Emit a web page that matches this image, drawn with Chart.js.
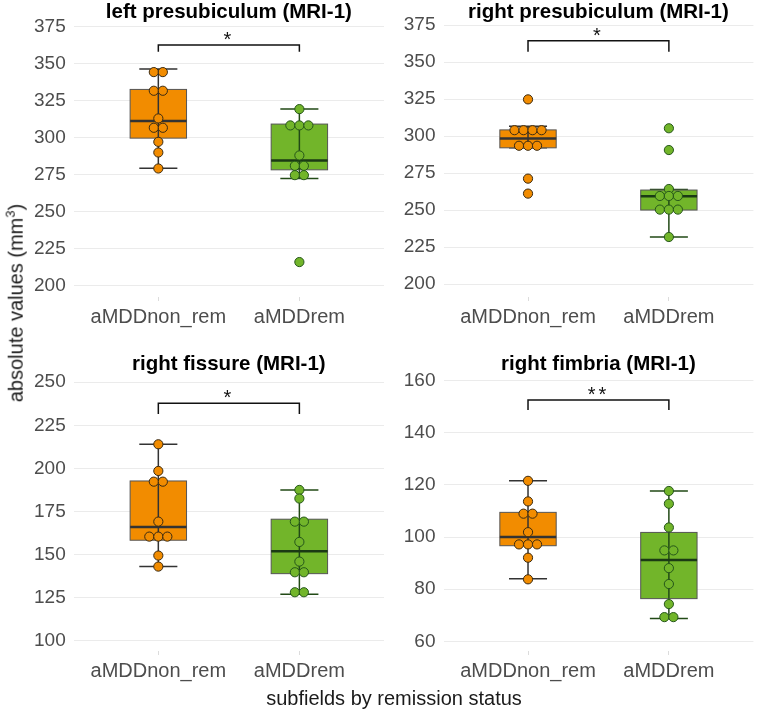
<!DOCTYPE html>
<html lang="en">
<head>
    <meta charset="UTF-8">
    <title>subfields by remission status (MRI-1)</title>
    <script src="https://cdn.jsdelivr.net/npm/chart.js"></script>
    <style>
        body {
            margin: 0;
            background: #fff;
            font-family: "Liberation Sans", Arial, sans-serif;
        }

        #wrap {
            position: relative;
            width: 759px;
            height: 711px;
        }

        canvas {
            position: absolute;
        }

        #ytitle {
            position: absolute;
            left: 15px;
            top: 303px;
            transform: translate(-50%, -50%) rotate(-90deg);
            white-space: nowrap;
            font-size: 20px;
            color: #1a1a1a;
        }

        #xtitle {
            position: absolute;
            left: 394px;
            top: 698px;
            transform: translate(-50%, -50%);
            white-space: nowrap;
            font-size: 20px;
            color: #1a1a1a;
        }
    </style>
</head>
<body>
    <div id="wrap">
        <canvas id="p1" width="390" height="337" style="left:0;top:0"></canvas>
        <canvas id="p2" width="369" height="337" style="left:390px;top:0"></canvas>
        <canvas id="p3" width="390" height="339" style="left:0;top:352px"></canvas>
        <canvas id="p4" width="369" height="339" style="left:390px;top:352px"></canvas>
        <div id="ytitle">absolute values (mm<sup style="font-size:13px">3</sup>)</div>
        <div id="xtitle">subfields by remission status</div>
    </div>

    <script>
        // groups on the x axis
        const groups = ['aMDDnon_rem', 'aMDDrem'];

        // left presubiculum
        const leftPresubTicks = [200, 225, 250, 275, 300, 325, 350, 375];
        const leftPresubNonRem = [344.3, 344.3, 331.7, 331.7, 313, 306.7, 306.7, 297.2, 290, 279.2];
        const leftPresubRem = [319.3, 308.3, 308.3, 308.3, 288, 281, 281, 274.7, 274.7, 216];
        // box stats: lower whisker, q1, median, q3, upper whisker
        const leftPresubBoxNonRem = [279.4, 299.7, 311.2, 332.6, 346.4];
        const leftPresubBoxRem = [272.4, 278.3, 284.6, 309.2, 319.3];

        // right presubiculum
        const rightPresubTicks = [200, 225, 250, 275, 300, 325, 350, 375];
        const rightPresubNonRem = [324.8, 304, 304, 304, 304, 293.5, 293.5, 293.5, 271.3, 261.2];
        const rightPresubRem = [305.3, 290.6, 264.3, 259.6, 259.6, 259.6, 250.4, 250.4, 250.4, 231.9];
        const rightPresubBoxNonRem = [292.1, 292.1, 298.4, 304.2, 306.7];
        const rightPresubBoxRem = [231.9, 250.1, 259.4, 263.6, 264];

        // right fissure
        const fissureTicks = [100, 125, 150, 175, 200, 225, 250];
        const fissureNonRem = [214, 198.5, 192.3, 192.3, 169.1, 160.4, 160.4, 160.4, 149.4, 143];
        const fissureRem = [187.5, 182.5, 169.1, 169.1, 157.3, 145.9, 139.7, 139.7, 128.1, 128.1];
        const fissureBoxNonRem = [143, 158.3, 166, 192.7, 214];
        const fissureBoxRem = [126.9, 138.9, 151.9, 170.5, 187.5];

        // right fimbria
        const fimbriaTicks = [60, 80, 100, 120, 140, 160];
        const fimbriaNonRem = [121.6, 113.7, 109, 109, 101.9, 97.2, 97.2, 97.2, 92.1, 83.8];
        const fimbriaRem = [117.7, 112.8, 103.7, 94.9, 94.9, 88.1, 82, 74.3, 69.3, 69.3];
        const fimbriaBoxNonRem = [84, 96.7, 100, 109.5, 121.6];
        const fimbriaBoxRem = [68.8, 76.4, 91.2, 101.8, 117.7];

        // significance brackets: [line y, tip y, label]
        const leftPresubSig = [362.6, 358.1, '*'];
        const rightPresubSig = [364.4, 357, '*'];
        const fissureSig = [237.8, 231.6, '*'];
        const fimbriaSig = [152.6, 148.8, '**'];

        const fills = ['#f28c00', '#72b52a'];
        const dotEdges = ['#3a2a12', '#25561a'];
        const whiskerCols = ['#333333', '#224a16'];
        const medianCols = ['#333333', '#1b3a14'];
        const fontFamily = '"Liberation Sans", Arial, sans-serif';
        const dotStep = 0.064; // one dot diameter in x units

        // spread equal values side by side, like a centred dotplot
        function stackDots(values, xCenter) {
            const counts = {};
            values.forEach(v => counts[v] = (counts[v] || 0) + 1);
            const seen = {};
            return values.map(v => {
                const i = seen[v] || 0;
                seen[v] = i + 1;
                return { x: xCenter + (i - (counts[v] - 1) / 2) * dotStep, y: v };
            });
        }

        function makePanel(id, title, ticks, yMin, yMax, yWidth, padRight, points, boxes, sig) {
            const boxPlugin = {
                id: 'boxes' + id,
                beforeDatasetsDraw(chart) {
                    const { ctx, scales: { x, y } } = chart;
                    boxes.forEach((b, g) => {
                        const cx = x.getPixelForValue(g + 1);
                        const half = x.getPixelForValue(g + 1.2) - cx;
                        const cap = x.getPixelForValue(g + 1.135) - cx;
                        const [lo, q1, med, q3, hi] = b.map(v => y.getPixelForValue(v));
                        ctx.save();
                        // whiskers and caps
                        ctx.strokeStyle = whiskerCols[g];
                        ctx.lineWidth = 1.5;
                        ctx.beginPath();
                        ctx.moveTo(cx, hi);
                        ctx.lineTo(cx, lo);
                        ctx.moveTo(cx - cap, hi);
                        ctx.lineTo(cx + cap, hi);
                        ctx.moveTo(cx - cap, lo);
                        ctx.lineTo(cx + cap, lo);
                        ctx.stroke();
                        // box
                        ctx.fillStyle = fills[g];
                        ctx.fillRect(cx - half, q3, 2 * half, q1 - q3);
                        ctx.strokeStyle = '#555';
                        ctx.lineWidth = 1;
                        ctx.strokeRect(cx - half, q3, 2 * half, q1 - q3);
                        // whisker line showing through the box
                        ctx.strokeStyle = whiskerCols[g];
                        ctx.lineWidth = 1.5;
                        ctx.beginPath();
                        ctx.moveTo(cx, q3);
                        ctx.lineTo(cx, q1);
                        ctx.stroke();
                        // median
                        ctx.strokeStyle = medianCols[g];
                        ctx.lineWidth = 2.5;
                        ctx.beginPath();
                        ctx.moveTo(cx - half, med);
                        ctx.lineTo(cx + half, med);
                        ctx.stroke();
                        ctx.restore();
                    });
                },
                afterDatasetsDraw(chart) {
                    const { ctx, chartArea, scales: { x, y } } = chart;
                    const x1 = x.getPixelForValue(1);
                    const x2 = x.getPixelForValue(2);
                    const yl = y.getPixelForValue(sig[0]);
                    const yt = y.getPixelForValue(sig[1]);
                    ctx.save();
                    ctx.strokeStyle = '#111';
                    ctx.lineWidth = 1.5;
                    ctx.beginPath();
                    ctx.moveTo(x1, yt);
                    ctx.lineTo(x1, yl);
                    ctx.lineTo(x2, yl);
                    ctx.lineTo(x2, yt);
                    ctx.stroke();
                    ctx.fillStyle = '#111';
                    ctx.font = '20px ' + fontFamily;
                    ctx.textAlign = 'center';
                    ctx.textBaseline = 'alphabetic';
                    ctx.letterSpacing = '3px';
                    ctx.fillText(sig[2], (x1 + x2) / 2, yl + 1);
                    // panel title, centred over the plot area
                    ctx.letterSpacing = '0px';
                    ctx.fillStyle = '#000';
                    ctx.font = 'bold 20.5px ' + fontFamily;
                    ctx.textBaseline = 'middle';
                    ctx.fillText(title, (chartArea.left + chartArea.right) / 2, chartArea.top - 10);
                    ctx.restore();
                }
            };

            const datasets = points.map((vals, g) => ({
                data: stackDots(vals, g + 1),
                backgroundColor: fills[g],
                borderColor: dotEdges[g],
                borderWidth: 1,
                pointRadius: 4.6,
                pointHoverRadius: 4.6
            }));

            return new Chart(document.getElementById(id), {
                type: 'scatter',
                data: { datasets: datasets },
                options: {
                    responsive: false,
                    animation: false,
                    events: [],
                    layout: { padding: { left: 0, right: padRight, top: 22.5, bottom: 0 } },
                    plugins: {
                        legend: { display: false },
                        tooltip: { enabled: false },
                        title: { display: false }
                    },
                    scales: {
                        x: {
                            type: 'linear',
                            min: 0.4,
                            max: 2.6,
                            afterBuildTicks: s => { s.ticks = groups.map((g, i) => ({ value: i + 1 })); },
                            afterFit: s => { s.height = 40; },
                            ticks: {
                                callback: v => groups[v - 1],
                                color: '#4d4d4d',
                                font: { size: 20, family: fontFamily },
                                padding: 4,
                                autoSkip: false,
                                maxRotation: 0
                            },
                            grid: { drawOnChartArea: false, tickLength: 4, color: '#dcdcdc' },
                            border: { display: false }
                        },
                        y: {
                            min: yMin,
                            max: yMax,
                            afterBuildTicks: s => { s.ticks = ticks.map(v => ({ value: v })); },
                            afterFit: s => { s.width = yWidth; },
                            ticks: {
                                color: '#4d4d4d',
                                font: { size: 19, family: fontFamily },
                                padding: 8
                            },
                            grid: { color: '#ebebeb', lineWidth: 1, drawTicks: false },
                            border: { display: false }
                        }
                    }
                },
                plugins: [boxPlugin]
            });
        }

        makePanel('p1', 'left presubiculum (MRI-1)', leftPresubTicks, 192.4, 377.8, 73.7, 6,
            [leftPresubNonRem, leftPresubRem], [leftPresubBoxNonRem, leftPresubBoxRem], leftPresubSig);
        makePanel('p2', 'right presubiculum (MRI-1)', rightPresubTicks, 191.4, 376.7, 53.5, 3,
            [rightPresubNonRem, rightPresubRem], [rightPresubBoxNonRem, rightPresubBoxRem], rightPresubSig);
        makePanel('p3', 'right fissure (MRI-1)', fissureTicks, 94, 254.5, 73.7, 6,
            [fissureNonRem, fissureRem], [fissureBoxNonRem, fissureBoxRem], fissureSig);
        makePanel('p4', 'right fimbria (MRI-1)', fimbriaTicks, 56.3, 162.4, 53.5, 3,
            [fimbriaNonRem, fimbriaRem], [fimbriaBoxNonRem, fimbriaBoxRem], fimbriaSig);
    </script>
</body>
</html>
